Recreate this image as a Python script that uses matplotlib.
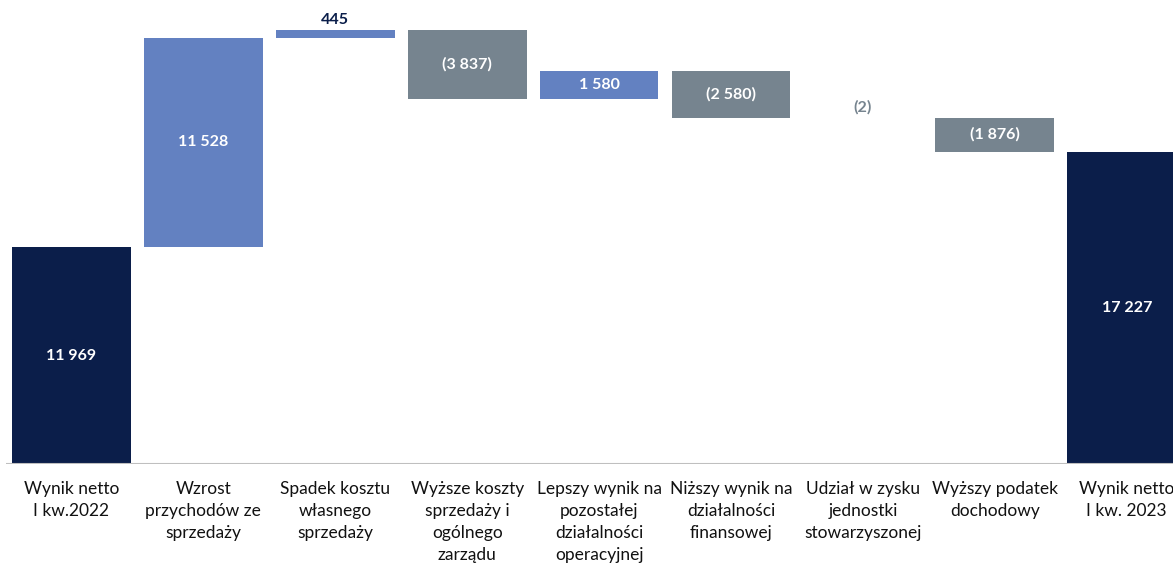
import numpy as np
import matplotlib.pyplot as plt

plt.rcParams['font.family'] = ['Lato', 'DejaVu Sans']

# ─── DATA ─────────────────────────────────────────────────────────────────────
categories = [
    "Wynik netto\nI kw.2022",
    "Wzrost\nprzychodów ze\nsprzedaży",
    "Spadek kosztu\nwłasnego\nsprzedaży",
    "Wyższe koszty\nsprzedaży i\nogólnego\nzarządu",
    "Lepszy wynik na\npozostałej\ndziałalności\noperacyjnej",
    "Niższy wynik na\ndziałalności\nfinansowej",
    "Udział w zysku\njednostki\nstowarzyszonej",
    "Wyższy podatek\ndochodowy",
    "Wynik netto\nI kw. 2023",
]
start_value = 11969
changes = [11528, 445, -3837, 1580, -2580, -2, -1876]
end_value = 17227
value_labels = ["11 969", "11 528", "445", "(3 837)", "1 580", "(2 580)", "(2)",
                "(1 876)", "17 227"]

NAVY = "#0b1e4a"
BLUE = "#6381c1"
GRAY = "#76848f"

# ─── WATERFALL GEOMETRY ──────────────────────────────────────────────────────
bottoms, heights, colors = [0], [start_value], [NAVY]
level = start_value
for c in changes:
    if c >= 0:
        bottoms.append(level)
        heights.append(c)
        colors.append(BLUE)
    else:
        bottoms.append(level + c)
        heights.append(-c)
        colors.append(GRAY)
    level += c
bottoms.append(0)
heights.append(end_value)
colors.append(NAVY)

x = np.arange(len(categories))

fig = plt.figure(figsize=(11.73, 5.63), dpi=100)
ax = fig.add_axes([0, 0.1758, 1, 0.8242])

ax.bar(x, heights, bottom=bottoms, width=0.9, color=colors, zorder=2)
ax.hlines(0, -0.5, 8.6, color="#bfbfbf", linewidth=1.5, zorder=3)

# value labels: inside if bar tall enough, otherwise above
for i, (b, h, lab, col) in enumerate(zip(bottoms, heights, value_labels, colors)):
    if h > 1000:
        ax.text(i, b + h / 2, lab, ha="center", va="center", color="white",
                fontsize=11.5, fontweight="bold", zorder=4)
    else:
        txt_col = NAVY if col == BLUE else GRAY
        ax.text(i, b + h + 180, lab, ha="center", va="bottom", color=txt_col,
                fontsize=11.5, fontweight="bold", zorder=4)

ax.set_xlim(-0.542, 8.351)
ax.set_ylim(0, 25590)
ax.set_xticks(x)
ax.set_xticklabels(categories, fontsize=12.5, color="#111111", linespacing=1.48)
ax.tick_params(axis="x", length=0, pad=12)
ax.set_yticks([])
for s in ax.spines.values():
    s.set_visible(False)

fig.savefig("out.png", dpi=100)
